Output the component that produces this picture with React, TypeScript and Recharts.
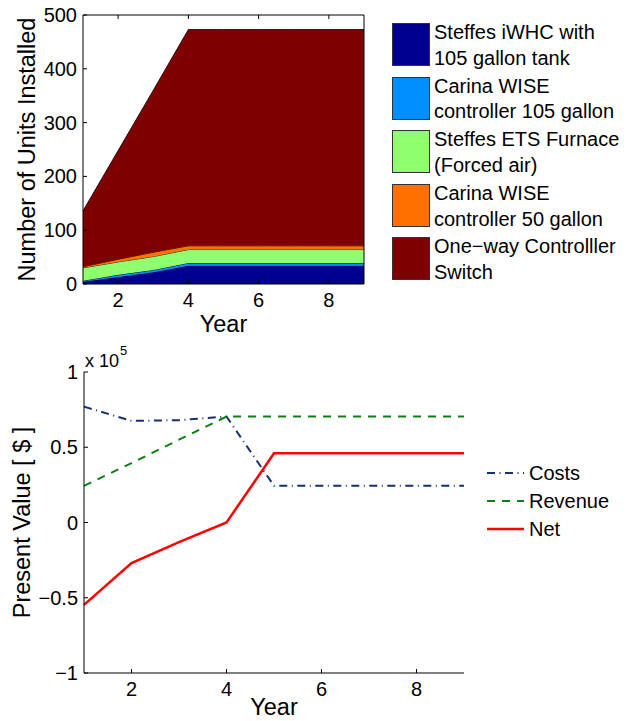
import React from "react";
import { AreaChart, Area, LineChart, Line, XAxis, YAxis, Legend, Label } from "recharts";

// years on the x axis (shared by both charts)
const years = [1, 2, 3, 4, 5, 6, 7, 8, 9];

// units installed, stacked bottom -> top
const steffesIwhc = [4, 13, 22, 34, 34, 34, 34, 34, 34];
const carina105 = [2, 4, 4, 5, 5, 5, 5, 5, 5];
const steffesEts = [24, 24, 25, 25, 25, 25, 25, 25, 25];
const carina50 = [2, 5, 8, 7, 7, 7, 7, 7, 7];
const oneWaySwitch = [104, 202, 301, 402, 402, 402, 402, 402, 402];

// present value in dollars
const costs = [77000, 67500, 68000, 70400, 24400, 24400, 24400, 24400, 24400];
const revenue = [24400, 39500, 55000, 70400, 70400, 70400, 70400, 70400, 70400];
const net = [-54700, -27000, -13000, 0, 46000, 46000, 46000, 46000, 46000];

const yearTicks = [2, 4, 6, 8];
const unitTicks = [0, 100, 200, 300, 400, 500];
const valueTicks = [-100000, -50000, 0, 50000, 100000];

const FONT = "'Liberation Sans', Arial, Helvetica, sans-serif";

const unitSeries = [
  { key: "steffesIwhc", values: steffesIwhc, color: "#00008f", label: ["Steffes iWHC with", "105 gallon tank"] },
  { key: "carina105", values: carina105, color: "#008fff", label: ["Carina WISE", "controller 105 gallon"] },
  { key: "steffesEts", values: steffesEts, color: "#8fff70", label: ["Steffes ETS Furnace", "(Forced air)"] },
  { key: "carina50", values: carina50, color: "#ff7000", label: ["Carina WISE", "controller 50 gallon"] },
  { key: "oneWaySwitch", values: oneWaySwitch, color: "#7f0000", label: ["One\u2212way Controlller", "Switch"] },
];

const valueSeries = [
  { key: "costs", name: "Costs", values: costs, color: "#142f73", dash: "8 4.5 1 4.5", width: 2 },
  { key: "revenue", name: "Revenue", values: revenue, color: "#0a8010", dash: "8 7", width: 2 },
  { key: "net", name: "Net", values: net, color: "#ff0000", dash: undefined, width: 2.5 },
];

const unitsData = years.map((year, i) => {
  const row: Record<string, number> = { year };
  unitSeries.forEach((s) => (row[s.key] = s.values[i]));
  return row;
});

const valueData = years.map((year, i) => {
  const row: Record<string, number> = { year };
  valueSeries.forEach((s) => (row[s.key] = s.values[i]));
  return row;
});

const fmtValue = (v: number) => {
  const s = String(v / 100000);
  return s.startsWith("-") ? "\u2212" + s.slice(1) : s;
};

// matlab style ticks: short marks pointing into the plot
const xTick = (dir: number, showLabel: boolean) => (p: any) => (
  <g>
    <line x1={p.x} x2={p.x} y1={p.y} y2={p.y + dir * 4} stroke="#000" strokeWidth={1} />
    {showLabel && (
      <text x={p.x} y={p.y + 23} textAnchor="middle" fontFamily={FONT} fontSize={20} fill="#000">
        {p.payload.value}
      </text>
    )}
  </g>
);

const yTick = (dir: number, showLabel: boolean, fmt: (v: number) => string) => (p: any) => (
  <g>
    <line x1={p.x} x2={p.x + dir * 4} y1={p.y} y2={p.y} stroke="#000" strokeWidth={1} />
    {showLabel && (
      <text x={p.x - 6} y={p.y + 7} textAnchor="end" fontFamily={FONT} fontSize={20} fill="#000">
        {fmt(p.payload.value)}
      </text>
    )}
  </g>
);

const rotatedLabel = (text: string, dx: number) => (props: any) => {
  const vb = props.viewBox;
  const x = vb.x + dx;
  const y = vb.y + vb.height / 2;
  return (
    <text x={x} y={y} transform={`rotate(-90, ${x}, ${y})`} textAnchor="middle" fontFamily={FONT} fontSize={23.5} fill="#000">
      {text}
    </text>
  );
};

const yearLabel = (dy: number) => (props: any) => {
  const vb = props.viewBox;
  return (
    <text x={vb.x + vb.width / 2} y={vb.y + dy} textAnchor="middle" fontFamily={FONT} fontSize={23.5} fill="#000">
      Year
    </text>
  );
};

const UnitsLegend = () => (
  <div style={{ position: "absolute", left: 392, top: 23, fontFamily: FONT, fontSize: 20, color: "#000" }}>
    {unitSeries.map((s, i) => (
      <div key={s.key} style={{ position: "absolute", left: 0, top: i * 53.6, display: "flex", width: 240 }}>
        <div style={{ width: 36, height: 41, background: s.color, border: "1px solid #333", flex: "none" }} />
        <div style={{ marginLeft: 4, marginTop: -3, lineHeight: "25.7px", whiteSpace: "nowrap" }}>
          <div>{s.label[0]}</div>
          <div>{s.label[1]}</div>
        </div>
      </div>
    ))}
  </div>
);

const ValueLegend = () => (
  <div style={{ position: "absolute", left: 487, top: 119.3, fontFamily: FONT, fontSize: 20, color: "#000" }}>
    {valueSeries.map((s) => (
      <div key={s.key} style={{ display: "flex", alignItems: "flex-start", height: 28, lineHeight: "28px", whiteSpace: "nowrap" }}>
        <svg width={38} height={28} style={{ flex: "none" }}>
          <line x1={0} x2={37} y1={14} y2={14} stroke={s.color} strokeWidth={s.width} strokeDasharray={s.dash} />
        </svg>
        <span style={{ marginLeft: 4 }}>{s.name}</span>
      </div>
    ))}
  </div>
);

export default function App() {
  return (
    <div style={{ position: "absolute", left: 0, top: 0, width: 633, height: 721, background: "#fff" }}>
      <div style={{ position: "absolute", left: 0, top: 0 }}>
        <AreaChart width={633} height={340} data={unitsData} margin={{ top: 14, right: 268, bottom: 0, left: 0 }}>
          <XAxis
            dataKey="year"
            type="number"
            domain={[1, 9]}
            ticks={yearTicks}
            interval={0}
            height={56}
            tickSize={0}
            tickMargin={0}
            tickLine={false}
            axisLine={{ stroke: "#000", strokeWidth: 1 }}
            tick={xTick(-1, true)}
          >
            <Label content={yearLabel(48)} />
          </XAxis>
          <XAxis
            xAxisId="top"
            orientation="top"
            dataKey="year"
            type="number"
            domain={[1, 9]}
            ticks={yearTicks}
            interval={0}
            height={1}
            tickSize={0}
            tickMargin={0}
            tickLine={false}
            axisLine={{ stroke: "#000", strokeWidth: 1 }}
            tick={xTick(1, false)}
          />
          <YAxis
            type="number"
            domain={[0, 500]}
            ticks={unitTicks}
            interval={0}
            width={83}
            tickSize={0}
            tickMargin={0}
            tickLine={false}
            axisLine={{ stroke: "#000", strokeWidth: 1 }}
            tick={yTick(1, true, (v) => String(v))}
          >
            <Label content={rotatedLabel("Number of Units Installed", 35)} />
          </YAxis>
          <YAxis
            yAxisId="right"
            orientation="right"
            type="number"
            domain={[0, 500]}
            ticks={unitTicks}
            interval={0}
            width={1}
            tickSize={0}
            tickMargin={0}
            tickLine={false}
            axisLine={{ stroke: "#000", strokeWidth: 1 }}
            tick={yTick(-1, false, (v) => String(v))}
          />
          {unitSeries.map((s) => (
            <Area
              key={s.key}
              dataKey={s.key}
              stackId="units"
              type="linear"
              fill={s.color}
              fillOpacity={1}
              stroke="#000"
              strokeWidth={0.8}
              isAnimationActive={false}
            />
          ))}
          <Legend
            layout="vertical"
            align="center"
            verticalAlign="middle"
            wrapperStyle={{ left: 0, top: 0, width: 0, height: 0 }}
            content={() => <UnitsLegend />}
          />
        </AreaChart>
      </div>
      <div style={{ position: "absolute", left: 0, top: 340 }}>
        <LineChart width={633} height={381} data={valueData} margin={{ top: 32, right: 169, bottom: 0, left: 0 }}>
          <XAxis
            dataKey="year"
            type="number"
            domain={[1, 9]}
            ticks={yearTicks}
            interval={0}
            height={48}
            tickSize={0}
            tickMargin={0}
            tickLine={false}
            axisLine={{ stroke: "#000", strokeWidth: 1 }}
            tick={xTick(-1, true)}
          >
            <Label content={yearLabel(42)} />
          </XAxis>
          <YAxis
            type="number"
            domain={[-100000, 100000]}
            ticks={valueTicks}
            interval={0}
            width={84}
            tickSize={0}
            tickMargin={0}
            tickLine={false}
            axisLine={{ stroke: "#000", strokeWidth: 1 }}
            tick={yTick(1, true, fmtValue)}
          >
            <Label content={rotatedLabel("Present Value [ $ ]", 30)} />
            <Label
              content={(props: any) => (
                <text x={props.viewBox.x + 85} y={props.viewBox.y - 5.5} fontFamily={FONT} fontSize={18} fill="#000">
                  x 10
                  <tspan dx={1} dy={-12} fontSize={13}>5</tspan>
                </text>
              )}
            />
          </YAxis>
          {valueSeries.map((s) => (
            <Line
              key={s.key}
              dataKey={s.key}
              type="linear"
              stroke={s.color}
              strokeWidth={s.width}
              strokeDasharray={s.dash}
              dot={false}
              isAnimationActive={false}
            />
          ))}
          <Legend
            layout="vertical"
            align="center"
            verticalAlign="middle"
            wrapperStyle={{ left: 0, top: 0, width: 0, height: 0 }}
            content={() => <ValueLegend />}
          />
        </LineChart>
      </div>
    </div>
  );
}
